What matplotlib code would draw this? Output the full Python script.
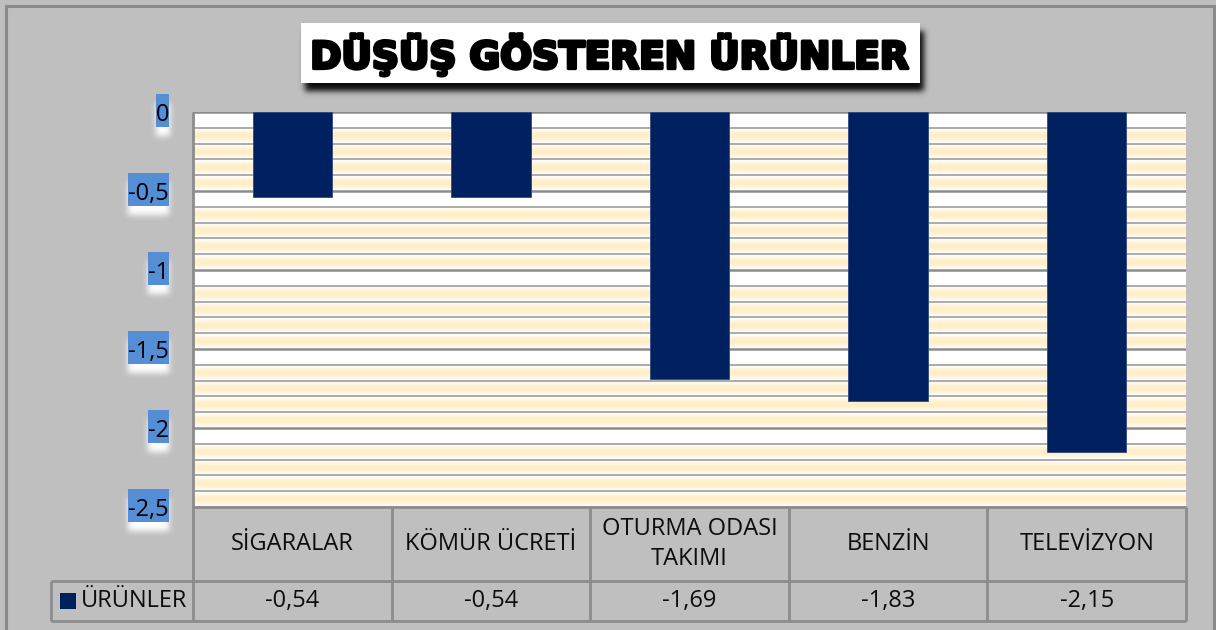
import numpy as np
import matplotlib
matplotlib.use("Agg")
import matplotlib.pyplot as plt
import matplotlib.patheffects as pe
from matplotlib.patches import Rectangle
from matplotlib.transforms import blended_transform_factory

categories = ["SİGARALAR", "KÖMÜR ÜCRETİ", "OTURMA ODASI\nTAKIMI", "BENZİN", "TELEVİZYON"]
values = [-0.54, -0.54, -1.69, -1.83, -2.15]
value_labels = ["-0,54", "-0,54", "-1,69", "-1,83", "-2,15"]
series_name = "ÜRÜNLER"
title = "DÜŞÜŞ GÖSTEREN ÜRÜNLER"
yticks = [0, -0.5, -1, -1.5, -2, -2.5]
ytick_labels = ["0", "-0,5", "-1", "-1,5", "-2", "-2,5"]

W, H = 1216, 630
BG = "#BFBFBF"
NAVY = "#002060"
LINE = "#8C8C8C"
FONT = "Open Sans"
FS = 17
plt.rcParams['font.family'] = [FONT, 'DejaVu Sans']

fig = plt.figure(figsize=(W / 100, H / 100), dpi=100, facecolor=BG)


def fx(px):
    return px / W


def fy(py):
    return 1 - py / H


def blur(a, sigma):
    r = int(3 * sigma) + 1
    k = np.exp(-0.5 * (np.arange(-r, r + 1) / sigma) ** 2)
    k /= k.sum()
    a = np.apply_along_axis(lambda m: np.convolve(m, k, mode='same'), 0, a)
    a = np.apply_along_axis(lambda m: np.convolve(m, k, mode='same'), 1, a)
    return a


def soft_shadow(x0, y0, x1, y1, dx, dy, sigma, rgb, alpha, zorder):
    """x0,y0,x1,y1 in pixel coordinates (origin top-left)."""
    pad = int(4 * sigma) + 2
    w = int(round(x1 - x0)) + 2 * pad
    h = int(round(y1 - y0)) + 2 * pad
    m = np.zeros((h, w))
    m[pad:h - pad, pad:w - pad] = 1.0
    m = blur(m, sigma) * alpha
    arr = np.zeros((h, w, 4))
    arr[..., :3] = rgb
    arr[..., 3] = np.clip(m, 0, 1)
    xo = int(round(x0 + dx)) - pad
    yo = int(round(H - (y1 + dy))) - pad
    fig.figimage(arr, xo=xo, yo=yo, origin='upper', zorder=zorder)


# outer chart border (right edge at 1214, bottom beyond the picture)
fig.patches.append(Rectangle((fx(6), fy(H + 50)), fx(1214 - 6), (H + 44) / H, transform=fig.transFigure,
                             fill=False, ec="#8A8A8A", lw=2.2, zorder=0))

L, R, T, B = 193, 1186, 112, 507
ax = fig.add_axes([fx(L), fy(B), fx(R - L), (B - T) / H])
ax.set_zorder(2)
n = len(categories)
x = np.arange(n)
ax.set_xlim(-0.5, n - 0.5)
ax.set_ylim(-2.5, 0)

# striped background
rows = 2000
yy = np.linspace(0, 2.5, rows, endpoint=False) + 2.5 / rows / 2
idx = np.floor(yy / 0.1 + 1e-9).astype(int)
t = yy / 0.1 - idx
cream = np.array([255, 238, 198]) / 255.0
white = np.array([1.0, 1.0, 1.0])
w = np.sin(np.pi * np.clip(t * 1.1 - 0.05, 0, 1)) ** 1.2
w = np.where(idx % 5 == 0, 0.0, w)
img = white[None, :] * (1 - w[:, None]) + cream[None, :] * w[:, None]
img = np.repeat(img[:, None, :], 4, axis=1)
ax.imshow(img, extent=[-0.5, n - 0.5, -2.5, 0], aspect='auto', origin='upper', zorder=0,
          interpolation='bilinear')

# gridlines
for k in range(26):
    gv = -k * 0.1
    major = (k % 5 == 0)
    ax.axhline(gv, color="#8C8C8C" if major else "#ABABAB", lw=1.8 if major else 1.4, zorder=1)

ax.bar(x, values, width=0.4, color=NAVY, edgecolor="#2E4A7F", linewidth=0.6, zorder=3)

for s in ax.spines.values():
    s.set_visible(False)
ax.set_xticks([])
ax.set_yticks([])

# data table
bx = blended_transform_factory(ax.transData, fig.transFigure)
row1, row2, row3 = 507, 581, 621
lkw = dict(color=LINE, lw=2, solid_capstyle='butt', clip_on=False, zorder=3)
fig.add_artist(plt.Line2D([fx(L), fx(R)], [fy(row1), fy(row1)], transform=fig.transFigure, **lkw))
fig.add_artist(plt.Line2D([fx(51), fx(R)], [fy(row2), fy(row2)], transform=fig.transFigure, **lkw))
fig.add_artist(plt.Line2D([fx(51), fx(R)], [fy(row3), fy(row3)], transform=fig.transFigure, **lkw))
fig.add_artist(plt.Line2D([fx(51), fx(51)], [fy(row2), fy(row3)], transform=fig.transFigure, **lkw))
fig.add_artist(plt.Line2D([fx(L), fx(L)], [fy(T), fy(row3)], transform=fig.transFigure, **lkw))
for bnd in np.arange(n) + 0.5:
    fig.add_artist(plt.Line2D([bnd, bnd], [fy(row1), fy(row3)], transform=bx, **lkw))

for xi, cat, vl in zip(x, categories, value_labels):
    fig.text(xi, fy((row1 + row2) / 2), cat, transform=bx, ha='center', va='center', fontsize=FS,
             linespacing=1.3, color='#0D0D0D')
    fig.text(xi, fy((row2 + row3) / 2), vl, transform=bx, ha='center', va='center', fontsize=FS,
             color='#0D0D0D')

# legend key in table
fig.patches.append(Rectangle((fx(60), fy(609)), fx(16), 16 / H, transform=fig.transFigure,
                             fc=NAVY, ec='none', zorder=3))
fig.text(fx(81), fy(601), series_name, ha='left', va='center', fontsize=FS, color='#0D0D0D')

# y tick labels with blue highlight and white glow
tr = blended_transform_factory(fig.transFigure, ax.transData)
tick_texts = []
for v, lab in zip(yticks, ytick_labels):
    tt = fig.text(fx(169), v, lab, transform=tr, ha='right', va='center_baseline', fontsize=FS,
                  color='black', zorder=6)
    tick_texts.append(tt)

fig.canvas.draw()
renderer = fig.canvas.get_renderer()
for v, tt in zip(yticks, tick_texts):
    ext = tt.get_window_extent(renderer)
    ypix = H - ax.transData.transform((0, v))[1]
    bx0, bx1 = ext.x0, 169
    by0, by1 = ypix - 18, ypix + 15
    soft_shadow(bx0, by0, bx1, by1, 0, 9, 3.0, (1, 1, 1), 1.0, zorder=4)
    fig.patches.append(Rectangle((fx(bx0), fy(by1)), fx(bx1 - bx0), (by1 - by0) / H,
                                 transform=fig.transFigure, fc='#558ED5', ec='none', zorder=5))

# title box with shadow
tx0, ty0, tx1, ty1 = 301, 23, 920, 83
soft_shadow(tx0, ty0, tx1, ty1, 4, 8, 3.0, (0, 0, 0), 0.95, zorder=3)
fig.patches.append(Rectangle((fx(tx0), fy(ty1)), fx(tx1 - tx0), (ty1 - ty0) / H, transform=fig.transFigure,
                             fc='white', ec='none', zorder=4))
fig.text(fx(610), fy(55), title, ha='center', va='center', fontsize=27, fontweight='bold',
         family=['DejaVu Sans'], color='black', zorder=6,
         path_effects=[pe.withStroke(linewidth=2.4, foreground='black')])

fig.savefig("out.png", dpi=100, facecolor=BG)
